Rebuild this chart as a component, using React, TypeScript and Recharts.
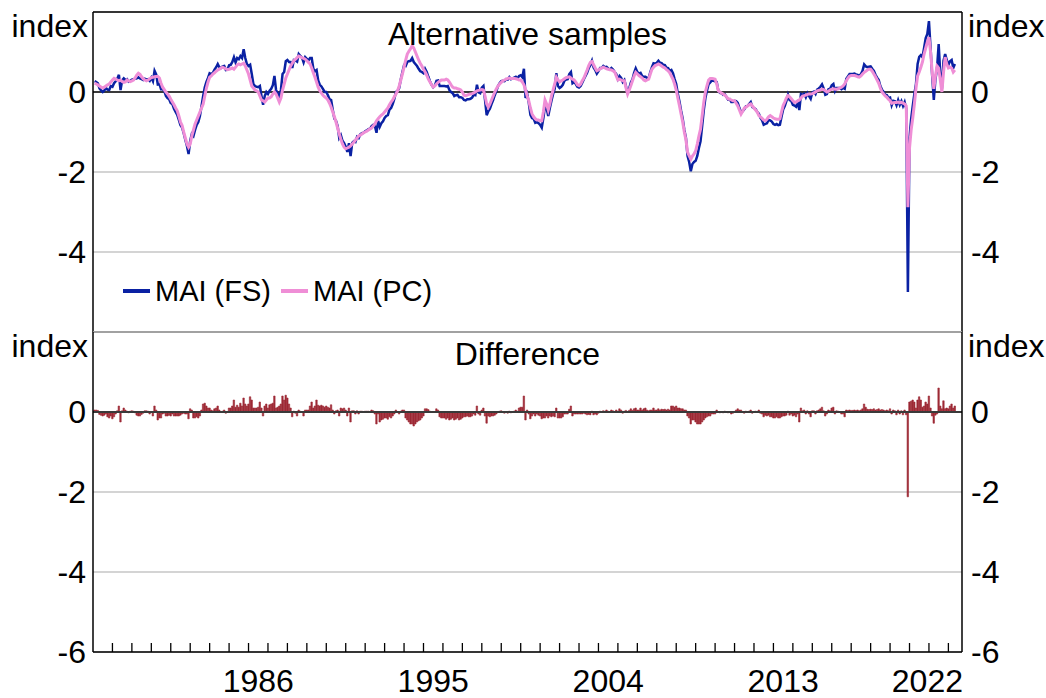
import React from 'react';
import { ComposedChart, Line, Bar, XAxis, YAxis, CartesianGrid, ReferenceLine, Legend } from 'recharts';

// monthly observations, first one is Feb 1978, one row per year
const FIRST_YEAR = 1978;

const maiFS = [
  0.27, 0.25, 0.22, 0.09, 0.04, 0.0, 0.04, 0.1, 0.06, 0.05, 0.15, 0.13,
  0.22, 0.27, 0.33, 0.43, 0.05, 0.29, 0.34, 0.3, 0.32, 0.26, 0.28, 0.31,
  0.32, 0.33, 0.34, 0.37, 0.34, 0.32, 0.3, 0.33, 0.31, 0.32, 0.28, 0.36,
  0.27, 0.53, 0.44, 0.19, 0.2, 0.07, 0.07, 0.03, -0.1, -0.15, -0.18, -0.28,
  -0.3, -0.42, -0.5, -0.57, -0.7, -0.83, -0.89, -1.03, -1.2, -1.35, -1.55, -1.22,
  -1.05, -1.1, -0.95, -0.82, -0.75, -0.6, -0.35, -0.1, 0.12, 0.25, 0.35, 0.47,
  0.45, 0.48, 0.56, 0.62, 0.7, 0.62, 0.6, 0.64, 0.65, 0.55, 0.56, 0.67,
  0.68, 0.75, 0.87, 0.74, 0.85, 0.82, 0.9, 0.85, 1.07, 0.85, 0.7, 0.65,
  0.68, 0.45, 0.2, 0.15, 0.13, 0.12, 0.15, -0.1, -0.32, -0.1, 0.0, -0.05,
  0.03, 0.08, 0.17, 0.4, 0.05, -0.03, -0.1, 0.05, 0.45, 0.5, 0.77, 0.8,
  0.75, 0.75, 0.6, 0.8, 0.79, 0.76, 0.95, 0.9, 0.86, 0.74, 0.87, 0.83,
  0.79, 0.85, 0.85, 0.58, 0.52, 0.55, 0.29, 0.18, 0.14, 0.07, 0.0, 0.0,
  -0.08, -0.18, -0.2, -0.45, -0.67, -0.72, -0.85, -1.15, -1.08, -1.22, -1.28, -1.37,
  -1.5, -1.28, -1.6, -1.27, -1.23, -1.25, -1.12, -1.15, -1.06, -1.03, -1.02, -0.98,
  -0.96, -0.93, -0.92, -0.85, -0.82, -0.85, -1.02, -0.72, -0.87, -0.78, -0.73, -0.65,
  -0.6, -0.58, -0.44, -0.4, -0.3, -0.17, 0.0, 0.03, 0.1, 0.32, 0.5, 0.67,
  0.65, 0.75, 0.77, 0.78, 0.85, 0.75, 0.7, 0.65, 0.58, 0.52, 0.5, 0.47,
  0.58, 0.5, 0.38, 0.27, 0.18, 0.12, 0.16, 0.28, 0.29, 0.15, 0.15, 0.15,
  0.15, 0.14, 0.15, 0.05, 0.0, -0.03, -0.1, -0.08, -0.07, -0.13, -0.13, -0.15,
  -0.2, -0.21, -0.18, -0.18, -0.17, -0.14, -0.07, -0.08, 0.18, -0.01, -0.03, 0.11,
  0.15, -0.2, -0.58, -0.48, -0.42, -0.3, -0.2, -0.08, 0.03, 0.15, 0.22, 0.27,
  0.28, 0.27, 0.32, 0.31, 0.37, 0.32, 0.34, 0.36, 0.38, 0.34, 0.4, 0.42,
  0.37, 0.58, -0.15, -0.05, -0.27, -0.57, -0.65, -0.67, -0.77, -0.75, -0.78, -0.82,
  -0.89, -0.65, -0.35, -0.4, -0.6, -0.4, -0.22, -0.05, 0.08, 0.47, 0.15, 0.1,
  0.13, 0.18, 0.28, 0.31, 0.32, 0.45, 0.5, 0.22, 0.25, 0.2, 0.13, 0.11,
  0.15, 0.23, 0.32, 0.4, 0.48, 0.6, 0.67, 0.78, 0.61, 0.55, 0.46, 0.52,
  0.6, 0.6, 0.65, 0.62, 0.63, 0.59, 0.56, 0.6, 0.56, 0.5, 0.45, 0.32,
  0.4, 0.35, 0.25, 0.3, 0.14, -0.05, 0.09, 0.24, 0.32, 0.48, 0.59, 0.5,
  0.46, 0.48, 0.4, 0.38, 0.38, 0.35, 0.35, 0.5, 0.62, 0.72, 0.71, 0.73,
  0.78, 0.73, 0.72, 0.68, 0.67, 0.61, 0.6, 0.53, 0.55, 0.47, 0.32, 0.2,
  -0.05, -0.24, -0.47, -0.67, -0.95, -1.15, -1.6, -1.75, -1.98, -1.8, -1.75, -1.72,
  -1.6, -1.4, -1.23, -0.85, -0.46, -0.15, 0.04, 0.2, 0.24, 0.29, 0.28, 0.27,
  0.25, 0.03, -0.02, -0.03, -0.07, -0.06, -0.12, -0.19, -0.18, -0.25, -0.25, -0.22,
  -0.23, -0.27, -0.4, -0.5, -0.48, -0.43, -0.36, -0.35, -0.3, -0.25, -0.38, -0.4,
  -0.43, -0.5, -0.54, -0.65, -0.71, -0.82, -0.8, -0.78, -0.7, -0.71, -0.74, -0.8,
  -0.82, -0.8, -0.83, -0.82, -0.62, -0.44, -0.35, -0.23, -0.07, -0.2, -0.22, -0.32,
  -0.34, -0.37, -0.27, -0.45, -0.05, -0.07, -0.04, -0.13, -0.03, -0.1, -0.17, -0.01,
  0.01, -0.05, 0.06, 0.09, 0.13, 0.19, 0.09, -0.07, -0.05, 0.07, 0.08, 0.17,
  0.2, 0.02, 0.1, 0.1, 0.1, 0.07, 0.1, 0.08, 0.33, 0.39, 0.45, 0.45,
  0.45, 0.46, 0.44, 0.43, 0.4, 0.45, 0.53, 0.69, 0.64, 0.62, 0.63, 0.64,
  0.58, 0.53, 0.43, 0.36, 0.3, 0.15, 0.06, 0.0, -0.07, -0.08, -0.15, -0.14,
  -0.33, -0.22, -0.23, -0.33, -0.2, -0.32, -0.23, -0.35, -0.25, -0.42, -5.0, -1.15,
  -0.68, -0.35, -0.05, 0.2, 0.7, 0.88, 0.92, 0.87, 1.1, 1.35, 1.45, 1.77,
  1.1, 0.4, -0.2, 0.32, 0.6, 1.2, 0.45, 0.08, 0.78, 0.95, 0.8, 0.68,
  0.77, 0.8, 0.6, 0.7,
];

const maiPC = [
  0.22, 0.2, 0.18, 0.15, 0.12, 0.1, 0.12, 0.15, 0.18, 0.2, 0.25, 0.3,
  0.34, 0.32, 0.3, 0.28, 0.3, 0.26, 0.24, 0.25, 0.3, 0.28, 0.26, 0.28,
  0.3, 0.35, 0.42, 0.47, 0.44, 0.38, 0.33, 0.3, 0.28, 0.3, 0.33, 0.36,
  0.37, 0.38, 0.39, 0.39, 0.35, 0.22, 0.12, 0.06, 0.0, -0.05, -0.1, -0.18,
  -0.25, -0.32, -0.4, -0.47, -0.6, -0.75, -0.84, -1.0, -1.15, -1.3, -1.38, -1.3,
  -1.1, -0.95, -0.8, -0.7, -0.6, -0.5, -0.4, -0.3, -0.1, 0.1, 0.25, 0.37,
  0.4, 0.45, 0.48, 0.52, 0.55, 0.57, 0.6, 0.62, 0.6, 0.58, 0.56, 0.57,
  0.58, 0.6, 0.57, 0.62, 0.68, 0.7, 0.68, 0.7, 0.72, 0.65, 0.55, 0.45,
  0.3, 0.15, 0.1, 0.05, 0.03, 0.0, -0.1, -0.2, -0.22, -0.25, -0.2, -0.15,
  -0.15, -0.12, -0.05, 0.0, -0.05, -0.15, -0.25, -0.15, 0.05, 0.2, 0.35, 0.45,
  0.55, 0.65, 0.72, 0.78, 0.82, 0.86, 0.9, 0.88, 0.86, 0.84, 0.82, 0.78,
  0.74, 0.7, 0.6, 0.48, 0.37, 0.25, 0.12, 0.03, -0.03, -0.08, -0.12, -0.15,
  -0.2, -0.28, -0.38, -0.5, -0.62, -0.75, -0.9, -1.05, -1.18, -1.3, -1.38, -1.42,
  -1.4, -1.38, -1.35, -1.3, -1.26, -1.2, -1.15, -1.1, -1.08, -1.05, -1.02, -1.0,
  -0.98, -0.95, -0.92, -0.9, -0.85, -0.8, -0.72, -0.67, -0.62, -0.58, -0.55, -0.5,
  -0.45, -0.4, -0.32, -0.25, -0.2, -0.12, -0.05, 0.03, 0.15, 0.3, 0.45, 0.62,
  0.8, 0.95, 1.02, 1.08, 1.15, 1.1, 1.0, 0.9, 0.8, 0.72, 0.65, 0.57,
  0.5, 0.42, 0.32, 0.25, 0.18, 0.12, 0.15, 0.2, 0.24, 0.27, 0.3, 0.3,
  0.3, 0.32, 0.3, 0.25, 0.18, 0.12, 0.1, 0.1, 0.08, 0.07, 0.05, 0.0,
  -0.08, -0.09, -0.08, -0.06, -0.05, -0.04, -0.02, 0.0, 0.03, 0.04, 0.05, 0.06,
  0.05, -0.1, -0.3, -0.38, -0.3, -0.2, -0.1, 0.0, 0.08, 0.15, 0.2, 0.24,
  0.28, 0.3, 0.32, 0.34, 0.35, 0.34, 0.34, 0.34, 0.33, 0.32, 0.3, 0.3,
  0.25, 0.18, 0.05, -0.1, -0.22, -0.4, -0.55, -0.62, -0.67, -0.7, -0.7, -0.72,
  -0.72, -0.5, -0.2, -0.3, -0.45, -0.3, -0.1, 0.05, 0.2, 0.37, 0.3, 0.25,
  0.28, 0.3, 0.33, 0.36, 0.37, 0.38, 0.35, 0.32, 0.3, 0.25, 0.18, 0.16,
  0.2, 0.28, 0.35, 0.45, 0.55, 0.66, 0.74, 0.76, 0.68, 0.6, 0.53, 0.55,
  0.58, 0.6, 0.62, 0.6, 0.58, 0.57, 0.56, 0.55, 0.53, 0.5, 0.4, 0.3,
  0.32, 0.3, 0.28, 0.28, 0.1, -0.05, 0.05, 0.16, 0.28, 0.4, 0.49, 0.45,
  0.41, 0.38, 0.35, 0.3, 0.28, 0.3, 0.32, 0.45, 0.57, 0.62, 0.66, 0.68,
  0.7, 0.68, 0.65, 0.62, 0.6, 0.56, 0.53, 0.48, 0.4, 0.32, 0.2, 0.05,
  -0.15, -0.34, -0.55, -0.75, -1.0, -1.2, -1.5, -1.6, -1.68, -1.6, -1.55, -1.47,
  -1.3, -1.1, -0.93, -0.6, -0.26, 0.0, 0.16, 0.3, 0.34, 0.34, 0.33, 0.32,
  0.2, 0.03, 0.0, -0.03, -0.05, -0.08, -0.12, -0.17, -0.18, -0.2, -0.22, -0.22,
  -0.28, -0.35, -0.45, -0.55, -0.48, -0.4, -0.38, -0.35, -0.32, -0.3, -0.35, -0.4,
  -0.45, -0.5, -0.59, -0.62, -0.66, -0.7, -0.72, -0.68, -0.62, -0.59, -0.62, -0.65,
  -0.67, -0.68, -0.68, -0.67, -0.5, -0.34, -0.25, -0.15, -0.09, -0.12, -0.17, -0.22,
  -0.26, -0.25, -0.22, -0.2, -0.15, -0.1, -0.09, -0.08, -0.06, -0.05, -0.05, -0.04,
  -0.02, 0.0, 0.03, 0.04, 0.05, 0.07, 0.06, 0.03, 0.0, 0.02, 0.05, 0.07,
  0.08, 0.07, 0.07, 0.08, 0.1, 0.12, 0.15, 0.2, 0.28, 0.35, 0.4, 0.41,
  0.41, 0.41, 0.4, 0.38, 0.37, 0.4, 0.45, 0.49, 0.52, 0.55, 0.57, 0.57,
  0.52, 0.45, 0.38, 0.3, 0.22, 0.1, 0.0, -0.05, -0.1, -0.13, -0.18, -0.22,
  -0.28, -0.27, -0.26, -0.26, -0.25, -0.27, -0.26, -0.28, -0.3, -0.35, -2.88, -1.4,
  -0.95, -0.65, -0.3, 0.1, 0.4, 0.5, 0.62, 0.75, 0.95, 1.1, 1.25, 1.37,
  1.0, 0.5, 0.08, 0.4, 0.65, 0.6, 0.3, 0.0, 0.5, 0.87, 0.7, 0.6,
  0.62, 0.6, 0.5, 0.55,
];

const maiDiff = [
  0.05, 0.05, 0.04, -0.06, -0.08, -0.1, -0.08, -0.05, -0.12, -0.15, -0.1, -0.17,
  -0.12, -0.05, 0.03, 0.15, -0.25, 0.03, 0.1, 0.05, 0.02, -0.02, 0.02, 0.03,
  0.02, -0.02, -0.08, -0.1, -0.1, -0.06, -0.03, 0.03, 0.03, 0.02, -0.05, 0.0,
  -0.1, 0.15, 0.05, -0.2, -0.15, -0.15, -0.05, -0.03, -0.1, -0.1, -0.08, -0.1,
  -0.05, -0.1, -0.1, -0.1, -0.1, -0.08, -0.05, -0.03, -0.05, -0.05, -0.17, 0.08,
  0.05, -0.15, -0.15, -0.12, -0.15, -0.1, 0.05, 0.2, 0.22, 0.15, 0.1, 0.1,
  0.05, 0.03, 0.08, 0.1, 0.15, 0.05, 0.0, 0.02, 0.05, -0.03, 0.0, 0.1,
  0.1, 0.15, 0.3, 0.12, 0.17, 0.12, 0.22, 0.15, 0.35, 0.2, 0.15, 0.2,
  0.38, 0.3, 0.1, 0.1, 0.1, 0.12, 0.25, 0.1, -0.1, 0.15, 0.2, 0.1,
  0.18, 0.2, 0.22, 0.4, 0.1, 0.12, 0.15, 0.2, 0.4, 0.3, 0.42, 0.35,
  0.2, 0.1, -0.12, 0.02, -0.03, -0.1, 0.05, 0.02, 0.0, -0.1, 0.05, 0.05,
  0.05, 0.15, 0.25, 0.1, 0.15, 0.3, 0.17, 0.15, 0.17, 0.15, 0.12, 0.15,
  0.12, 0.1, 0.18, 0.05, -0.05, 0.03, 0.05, -0.1, 0.1, 0.08, 0.1, 0.05,
  -0.1, 0.1, -0.25, 0.03, 0.03, -0.05, 0.03, -0.05, 0.02, 0.02, 0.0, 0.02,
  0.02, 0.02, 0.0, 0.05, 0.03, -0.05, -0.3, -0.05, -0.25, -0.2, -0.18, -0.15,
  -0.15, -0.18, -0.12, -0.15, -0.1, -0.05, 0.05, 0.0, -0.05, 0.02, 0.05, 0.05,
  -0.15, -0.2, -0.25, -0.3, -0.3, -0.35, -0.3, -0.25, -0.22, -0.2, -0.15, -0.1,
  0.08, 0.08, 0.06, 0.02, 0.0, 0.0, 0.01, 0.08, 0.05, -0.12, -0.15, -0.15,
  -0.15, -0.18, -0.15, -0.2, -0.18, -0.15, -0.2, -0.18, -0.15, -0.2, -0.18, -0.15,
  -0.12, -0.12, -0.1, -0.12, -0.12, -0.1, -0.05, -0.08, 0.15, -0.05, -0.08, 0.05,
  0.1, -0.1, -0.28, -0.1, -0.12, -0.1, -0.1, -0.08, -0.05, 0.0, 0.02, 0.03,
  0.0, -0.03, 0.0, -0.03, 0.02, -0.02, 0.0, 0.02, 0.05, 0.02, 0.1, 0.12,
  0.12, 0.4, -0.2, 0.05, -0.05, -0.17, -0.1, -0.05, -0.1, -0.05, -0.08, -0.1,
  -0.17, -0.15, -0.15, -0.1, -0.15, -0.1, -0.12, -0.1, -0.12, 0.1, -0.15, -0.15,
  -0.15, -0.12, -0.05, -0.05, -0.05, 0.07, 0.15, -0.1, -0.05, -0.05, -0.05, -0.05,
  -0.05, -0.05, -0.03, -0.05, -0.07, -0.06, -0.07, 0.02, -0.07, -0.05, -0.07, -0.03,
  0.02, 0.0, 0.03, 0.02, 0.05, 0.02, 0.0, 0.05, 0.03, 0.0, 0.05, 0.02,
  0.08, 0.05, -0.03, 0.02, 0.04, 0.0, 0.04, 0.08, 0.04, 0.08, 0.1, 0.05,
  0.05, 0.1, 0.05, 0.08, 0.1, 0.05, 0.03, 0.05, 0.05, 0.1, 0.05, 0.05,
  0.08, 0.05, 0.07, 0.06, 0.07, 0.05, 0.07, 0.05, 0.15, 0.15, 0.12, 0.15,
  0.1, 0.1, 0.08, 0.08, 0.05, 0.05, -0.1, -0.15, -0.3, -0.2, -0.2, -0.25,
  -0.3, -0.3, -0.3, -0.25, -0.2, -0.15, -0.12, -0.1, -0.1, -0.05, -0.05, -0.05,
  0.05, 0.0, -0.02, 0.0, -0.02, 0.02, 0.0, -0.02, 0.0, -0.05, -0.03, 0.0,
  0.05, 0.08, 0.05, 0.05, 0.0, -0.03, 0.02, 0.0, 0.02, 0.05, -0.03, 0.0,
  0.02, 0.0, 0.05, -0.03, -0.05, -0.12, -0.08, -0.1, -0.08, -0.12, -0.12, -0.15,
  -0.15, -0.12, -0.15, -0.15, -0.12, -0.1, -0.1, -0.08, 0.02, -0.08, -0.05, -0.1,
  -0.08, -0.12, -0.05, -0.25, 0.1, 0.03, 0.05, -0.05, 0.03, -0.05, -0.12, 0.03,
  0.03, -0.05, 0.03, 0.05, 0.08, 0.12, 0.03, -0.1, -0.05, 0.05, 0.03, 0.1,
  0.12, -0.05, 0.03, 0.02, 0.0, -0.05, -0.05, -0.12, 0.05, 0.04, 0.05, 0.04,
  0.04, 0.05, 0.04, 0.05, 0.03, 0.05, 0.08, 0.2, 0.12, 0.07, 0.06, 0.07,
  0.06, 0.08, 0.05, 0.06, 0.08, 0.05, 0.06, 0.05, 0.03, 0.05, 0.03, 0.08,
  -0.05, 0.05, 0.03, -0.07, 0.05, -0.05, 0.03, -0.07, 0.05, -0.07, -2.12, 0.25,
  0.27, 0.3, 0.25, 0.1, 0.3, 0.38, 0.3, 0.12, 0.15, 0.25, 0.2, 0.4,
  0.1, -0.1, -0.28, -0.08, -0.05, 0.6, 0.15, 0.08, 0.28, 0.08, 0.1, 0.08,
  0.15, 0.2, 0.1, 0.15,
];

const labelYears = [1986, 1995, 2004, 2013, 2022];
const yTicks = [-6, -4, -2, 0, 2];

const data = maiFS.map((fs, i) => ({
  t: FIRST_YEAR + (i + 1) / 12,
  fs,
  pc: maiPC[i],
  diff: maiDiff[i],
}));
const yearTicks = Array.from({ length: 44 }, (_, i) => 1979 + i);

const W = 1046;
const H = 698;
const PL = 93;
const PR = 962;
const TOP = 12;
const MID = 332;
const BOT = 652;
const X_DOMAIN: [number, number] = [1978, 2022.7];
const YEAR_PX = (PR - PL) / (X_DOMAIN[1] - X_DOMAIN[0]);

const FONT = '"Liberation Sans", Arial, sans-serif';
const FS_COLOR = '#0A21A3';
const PC_COLOR = '#EF8ED6';
const BAR_COLOR = '#9E2A35';
const GRID = '#c6c6c6';
const FONT_SIZE = 32;

const makeYTick = (hidden: number[]) => (props: any) => {
  const { x, y, payload, textAnchor } = props;
  if (hidden.includes(payload.value)) return <g />;
  return (
    <text x={x} y={y} dy="0.355em" textAnchor={textAnchor} fontFamily={FONT} fontSize={FONT_SIZE} fill="#000">
      {payload.value}
    </text>
  );
};

const XTick = (props: any) => {
  const { x, y, payload } = props;
  const year = payload.value;
  let lx = x + YEAR_PX / 2;
  let anchor = 'middle';
  if (lx + 34 > PR) {
    lx = PR + 1;
    anchor = 'end';
  }
  return (
    <g>
      <line x1={x} x2={x} y1={y} y2={y - 9} stroke="#000" strokeWidth={1.3} />
      {labelYears.includes(year) && (
        <text x={lx} y={y + 40} textAnchor={anchor} fontFamily={FONT} fontSize={FONT_SIZE} fill="#000">
          {year}
        </text>
      )}
    </g>
  );
};

const LegendBox = () => (
  <div style={{ display: 'flex', alignItems: 'center', fontFamily: FONT, fontSize: 29, lineHeight: '30px', color: '#000', whiteSpace: 'nowrap' }}>
    <span style={{ width: 27, height: 4, background: FS_COLOR, marginRight: 5 }} />
    <span>MAI (FS)</span>
    <span style={{ width: 27, height: 4, background: PC_COLOR, marginLeft: 10, marginRight: 5 }} />
    <span>MAI (PC)</span>
  </div>
);

const frame = { stroke: '#000', strokeWidth: 1.5 };

const textStyle: React.CSSProperties = {
  position: 'absolute',
  fontFamily: FONT,
  fontSize: FONT_SIZE,
  lineHeight: `${FONT_SIZE}px`,
  color: '#000',
  whiteSpace: 'nowrap',
};

export default function App() {
  return (
    <div style={{ position: 'absolute', left: 0, top: 0, width: W, height: H, background: '#fff', overflow: 'hidden' }}>
      <div style={{ position: 'absolute', left: 0, top: 0 }}>
        <ComposedChart width={W} height={H} data={data} margin={{ top: TOP, right: 0, bottom: H - MID, left: 0 }}>
          <CartesianGrid yAxisId="l" vertical={false} stroke={GRID} strokeWidth={1.6} />
          <XAxis dataKey="t" type="number" domain={X_DOMAIN} hide allowDataOverflow />
          <YAxis yAxisId="l" width={PL} domain={[-6, 2]} allowDataOverflow ticks={yTicks} interval={0} tickSize={0} tickMargin={7}
            axisLine={frame} tickLine={false} tick={makeYTick([2, -6])} />
          <YAxis yAxisId="r" orientation="right" width={W - PR} domain={[-6, 2]} allowDataOverflow ticks={yTicks} interval={0}
            tickSize={0} tickMargin={9} axisLine={frame} tickLine={false} tick={makeYTick([2, -6])} />
          <ReferenceLine yAxisId="l" y={0} stroke="#3a3a3a" strokeWidth={1.8} />
          <ReferenceLine yAxisId="l" y={2} stroke="#000" strokeWidth={1.5} />
          <ReferenceLine yAxisId="l" y={-6} stroke="#000" strokeWidth={1.5} />
          <Line yAxisId="l" type="linear" dataKey="fs" stroke={FS_COLOR} strokeWidth={2.5} dot={false} isAnimationActive={false} />
          <Line yAxisId="r" type="linear" dataKey="pc" stroke={PC_COLOR} strokeWidth={3} dot={false} isAnimationActive={false} />
          <Legend layout="horizontal" verticalAlign="middle" align="center"
            wrapperStyle={{ left: 123, top: 276, width: 420 }} content={() => <LegendBox />} />
        </ComposedChart>
      </div>
      <div style={{ position: 'absolute', left: 0, top: 0 }}>
        <ComposedChart width={W} height={H} data={data} margin={{ top: MID, right: 0, bottom: 0, left: 0 }}>
          <CartesianGrid yAxisId="l" vertical={false} stroke={GRID} strokeWidth={1.6} />
          <XAxis dataKey="t" type="number" domain={X_DOMAIN} allowDataOverflow height={H - BOT} ticks={yearTicks}
            interval={0} tickSize={0} tickMargin={0} tickLine={false} axisLine={frame} tick={<XTick />} />
          <YAxis yAxisId="l" width={PL} domain={[-6, 2]} allowDataOverflow ticks={yTicks} interval={0} tickSize={0} tickMargin={7}
            axisLine={frame} tickLine={false} tick={makeYTick([2])} />
          <YAxis yAxisId="r" orientation="right" width={W - PR} domain={[-6, 2]} allowDataOverflow ticks={yTicks} interval={0}
            tickSize={0} tickMargin={9} axisLine={frame} tickLine={false} tick={makeYTick([2])} />
          <ReferenceLine yAxisId="l" y={0} stroke="#3a3a3a" strokeWidth={1.8} />
          <Bar yAxisId="l" dataKey="diff" fill={BAR_COLOR} stroke={BAR_COLOR} strokeWidth={0.6} barSize={1.9} isAnimationActive={false} />
        </ComposedChart>
      </div>

      <div style={{ ...textStyle, left: 0, width: 88, textAlign: 'right', top: 10 }}>index</div>
      <div style={{ ...textStyle, left: 968, top: 10 }}>index</div>
      <div style={{ ...textStyle, left: PL, width: PR - PL, textAlign: 'center', top: 18 }}>Alternative samples</div>

      <div style={{ ...textStyle, left: 0, width: 88, textAlign: 'right', top: 330 }}>index</div>
      <div style={{ ...textStyle, left: 968, top: 330 }}>index</div>
      <div style={{ ...textStyle, left: PL, width: PR - PL, textAlign: 'center', top: 338 }}>Difference</div>
    </div>
  );
}
